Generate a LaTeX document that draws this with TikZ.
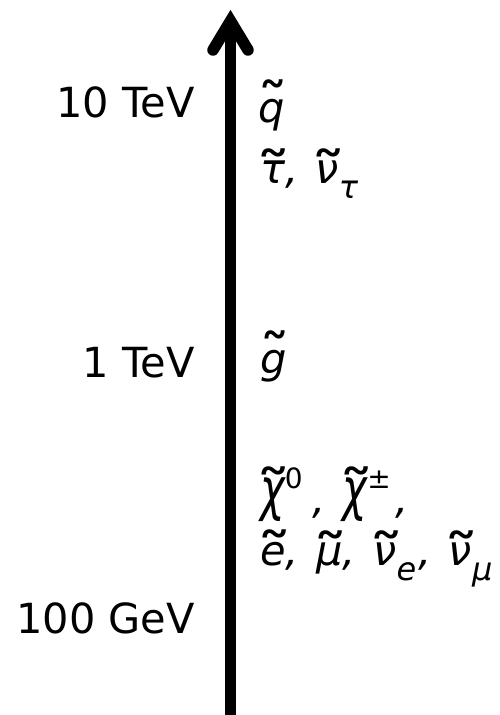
\documentclass[tikz,border=0pt]{standalone}
\usepackage{fontspec}
\setmainfont{DejaVu Sans}
\usepackage{graphicx}
% tilde accent: #1 hscale, #2 vscale, #3 gap from letter top to tilde top, #4 letter
\newcommand{\wtx}[4]{{\setbox0\hbox{#4}\setbox2\hbox{\upshape\scalebox{#1}[#2]{\char"02DC}}%
  \ooalign{\copy0\cr\hidewidth\kern0.06em\raisebox{\dimexpr\ht0-\ht2+#3\relax}{\copy2}\hidewidth\cr}}}
\newcommand{\wt}[1]{\wtx{1.75}{1.45}{0.28em}{#1}}
\newcommand{\wtq}[1]{\wtx{1.5}{1.45}{0.46em}{#1}}
\newcommand{\sups}[1]{\raisebox{0.58em}{\fontsize{28}{28}\selectfont\upshape #1}}
\newcommand{\subs}[1]{\raisebox{-0.38em}{\fontsize{32}{32}\selectfont\itshape #1}}
\newcommand{\cm}{,\kern0.42em}
\newcommand{\bigchi}{\raisebox{0.08em}{\scalebox{1}[1.4]{χ}}}
\tikzset{
  scalelab/.style={font=\fontsize{41.5}{50}\selectfont, anchor=base east, inner sep=0pt},
  partlab/.style={font=\fontsize{41.5}{50}\selectfont\itshape, anchor=base west, inner sep=0pt},
  axisline/.style={line width=11.5pt},
}
\begin{document}
\begin{tikzpicture}[x=1pt,y=-1pt]
\useasboundingbox (0,0) rectangle (499,715);
\coordinate (bot) at (230.5,715);
\coordinate (tip) at (230.5,21);
\coordinate (armL) at (213,50);
\coordinate (armR) at (248,50);
\draw[axisline, line cap=butt] (bot) -- (tip);
\draw[axisline, line cap=round, line join=miter] (armL) -- (tip) -- (armR);
\node[scalelab] (t10) at (195,117) {10 TeV};
\node[scalelab] (t1) at (195,377) {1 TeV};
\node[scalelab] (g100) at (195,633) {100 GeV};
\node[partlab] (sq) at (258,122) {\wtq{q}};
\node[partlab] (stau) at (260,183) {\wt{τ}\cm\wt{ν}\subs{τ}};
\node[partlab] (sg) at (260,373) {\wtq{g}};
\node[partlab] (chi) at (260,513) {\wt{\bigchi}\sups{0}\kern0.25em,\kern0.4em\wt{\bigchi}\sups{±}\kern0.12em,};
\node[partlab] (slep) at (260,565) {\wt{e}\cm\wt{μ}\cm\wt{ν}\subs{e}\kern0.05em,\kern0.42em\wt{ν}\subs{μ}};
\end{tikzpicture}
\end{document}
